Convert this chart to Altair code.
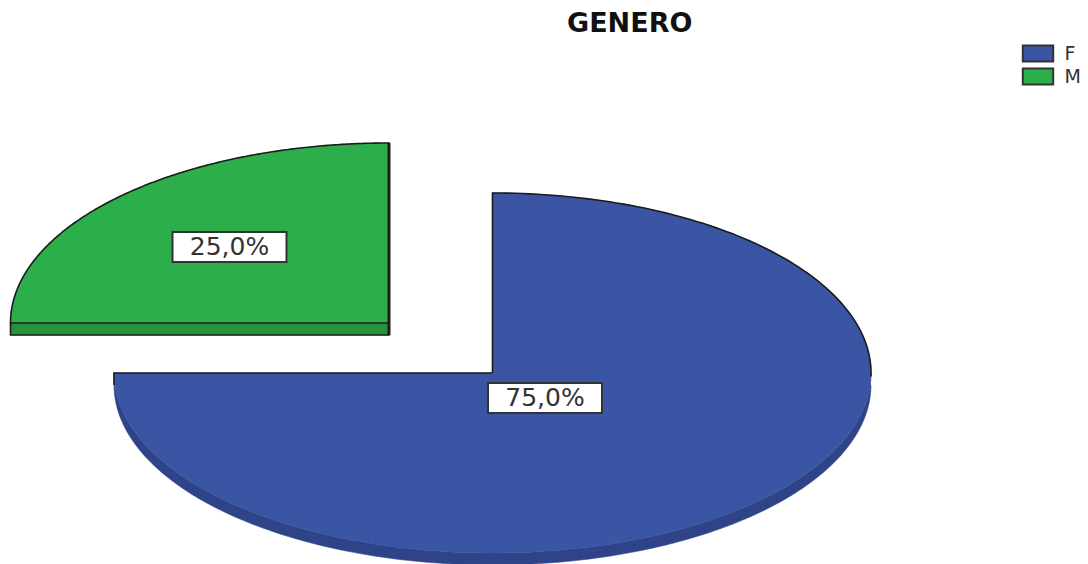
import math
import altair as alt
import pandas as pd

TITLE = "GENERO"
categories = ["F", "M"]
shares = [75.0, 25.0]
labels = ["75,0%", "25,0%"]
top_colors = ["#3B55A5", "#2CAE4A"]
side_colors = ["#2F4488", "#27913C"]

# Picture geometry of the tilted pie
W, H = 1072, 556
RX, RY, DEPTH = 378.5, 180, 12
APEX = {"F": (492.5, 373), "M": (389, 323)}
LABEL_AT = {"F": (545, 398), "M": (229.5, 247)}
BOX_W, BOX_H = 114, 30


def pt(cx, cy, deg, dy=0):
    t = math.radians(deg)
    return cx + RX * math.sin(t), cy - RY * math.cos(t) + dy


def rows(name, pts):
    return [dict(cat=name, i=i, x=p[0], y=p[1]) for i, p in enumerate(pts)]


def slices():
    top, side, edge, heavy = [], [], [], []
    start = 0.0
    for cat, share in zip(categories, shares):
        sweep = share * 3.6
        cx, cy = APEX[cat]
        degs = [start + sweep * i / 240 for i in range(241)]
        arc = [pt(cx, cy, d) for d in degs]
        ring = [(cx, cy)] + arc + [(cx, cy)]
        top += rows(cat, ring)
        lower0 = pt(cx, cy, degs[0], DEPTH)
        if cat == "M":
            wall = [arc[0], lower0, (cx, cy + DEPTH), (cx, cy)]
            edge += rows("M1", ring)
            edge += rows("M2", wall)
            heavy += rows("M3", [(cx, cy - RY), (cx, cy + DEPTH)])
        else:
            vis = [d for d in degs if 90 <= d <= 270]
            wall = [pt(cx, cy, d) for d in vis] + [pt(cx, cy, d, DEPTH) for d in reversed(vis)]
            edge += rows("F1", [(cx, cy)] + [pt(cx, cy, d) for d in degs if d <= 92])
            edge += rows("F2", [pt(cx, cy, degs[-1], DEPTH), pt(cx, cy, degs[-1]), (cx, cy)])
        side += rows(cat, wall)
        start += sweep
    return pd.DataFrame(top), pd.DataFrame(side), pd.DataFrame(edge), pd.DataFrame(heavy)


top_df, side_df, edge_df, heavy_df = slices()
label_df = pd.DataFrame([
    dict(cat=c, text=t, x=LABEL_AT[c][0], y=LABEL_AT[c][1],
         x0=LABEL_AT[c][0] - BOX_W / 2, x1=LABEL_AT[c][0] + BOX_W / 2,
         y0=LABEL_AT[c][1] - BOX_H / 2, y1=LABEL_AT[c][1] + BOX_H / 2)
    for c, t in zip(categories, labels)
])

xs = alt.Scale(domain=[8, 8 + W], nice=False, zero=False)
ys = alt.Scale(domain=[8 + H, 8], nice=False, zero=False)
X = alt.X("x:Q", scale=xs, axis=None)
Y = alt.Y("y:Q", scale=ys, axis=None)
color = alt.Color(
    "cat:N",
    scale=alt.Scale(domain=categories, range=top_colors),
    legend=alt.Legend(
        title=None, orient="none", legendX=1020.5, legendY=36,
        symbolType="M-1.9,-1H1.9V1H-1.9Z", symbolSize=256, symbolStrokeColor="#333333",
        symbolStrokeWidth=2, symbolOpacity=1,
        labelFontSize=19, labelFont="DejaVu Sans", labelColor="#333333",
        labelOffset=17, rowPadding=-2, padding=0,
    ),
)

layers = []
for i, cat in enumerate(categories):
    layers.append(
        alt.Chart(side_df[side_df.cat == cat]).mark_line(
            fill=side_colors[i], stroke=side_colors[i], strokeWidth=0.5
        ).encode(x=X, y=Y, order="i:Q")
    )
    layers.append(
        alt.Chart(top_df[top_df.cat == cat]).mark_line(
            fill=top_colors[i], stroke=top_colors[i], strokeWidth=0.5
        ).encode(x=X, y=Y, order="i:Q")
    )

edges = alt.Chart(edge_df).mark_line(stroke="#1c1c1c", strokeWidth=1.6).encode(
    x=X, y=Y, detail="cat:N", order="i:Q"
)
heavy = alt.Chart(heavy_df).mark_line(stroke="#1c1c1c", strokeWidth=3).encode(
    x=X, y=Y, detail="cat:N", order="i:Q"
)
legend_carrier = alt.Chart(pd.DataFrame({"cat": categories, "x": [-100, -100], "y": [-100, -100]})).mark_point(
    filled=True, opacity=0, shape="square", clip=True
).encode(x=X, y=Y, color=color)

boxes = alt.Chart(label_df).mark_rect(fill="white", stroke="#333333", strokeWidth=2).encode(
    x=alt.X("x0:Q", scale=xs, axis=None), x2="x1:Q",
    y=alt.Y("y0:Q", scale=ys, axis=None), y2="y1:Q",
)
texts = alt.Chart(label_df).mark_text(
    font="DejaVu Sans", fontSize=25, color="#333333", baseline="middle", align="center"
).encode(x=X, y=Y, text="text:N")

chart = alt.layer(*layers, edges, heavy, boxes, texts, legend_carrier).properties(
    width=W, height=H, padding=0, autosize=alt.AutoSizeParams(type="none"),
    title=alt.TitleParams(
        TITLE, font="DejaVu Sans", fontSize=27, fontWeight="bold", color="#111111",
        anchor="start", frame="group", dx=567 - 8, offset=-30,
    ),
).configure_view(stroke=None).configure_legend(symbolOpacity=1).resolve_scale(color="independent")

chart.save("out.html", embed_options={"renderer": "svg", "actions": False})
